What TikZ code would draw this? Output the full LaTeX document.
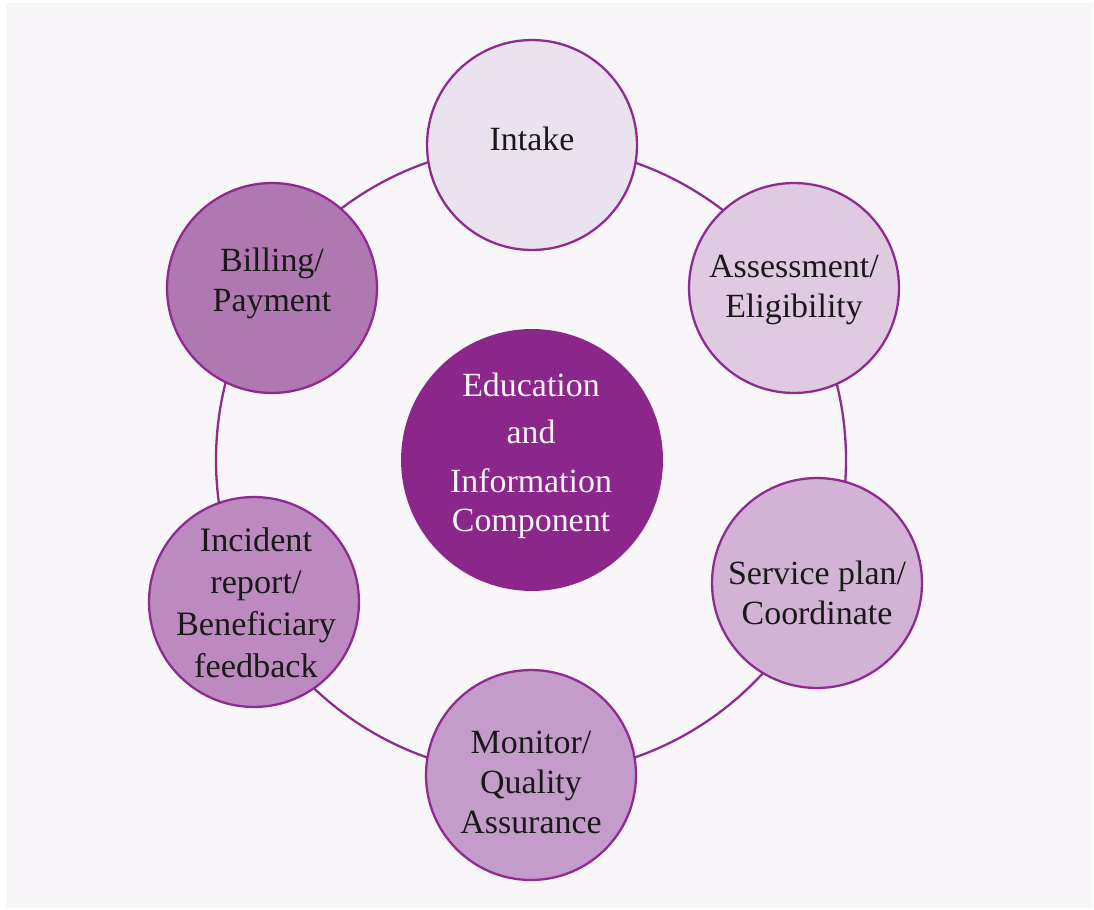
\documentclass[tikz,border=0pt]{standalone}
\usepackage{fontspec}
\setmainfont{Liberation Serif}
\definecolor{paper}{HTML}{F8F6F9}
\definecolor{ringline}{HTML}{8E2A91}
\definecolor{hubfill}{HTML}{8B278B}
\definecolor{intakefill}{HTML}{EBE2EF}
\definecolor{assessfill}{HTML}{E0CAE2}
\definecolor{servicefill}{HTML}{D2B3D6}
\definecolor{monitorfill}{HTML}{C49CC9}
\definecolor{incidentfill}{HTML}{BC8ABF}
\definecolor{billingfill}{HTML}{AF78B0}
\begin{document}
\begin{tikzpicture}[x=0.02cm, y=-0.02cm,
    sat/.style={circle, draw=ringline, line width=1.3pt, minimum size=4.2cm, inner sep=0pt},
    lbl/.style={align=center, font=\fontsize{19.3}{22.8}\selectfont, text=black!90}]
                \useasboundingbox (0,0) rectangle (1094,909);
                \fill[white] (0,0) rectangle (1094,909);
                \fill[paper] (6,3) rectangle (1093,908); % 背景
                \draw[ringline, line width=1.3pt] (531,460) circle[radius=315]; % 外側の輪
                % 周りの円
                \node[sat, fill=intakefill] (intake) at (532,145) {};
                \node[sat, fill=assessfill] (assess) at (794,288) {};
                \node[sat, fill=servicefill] (service) at (817,583) {};
                \node[sat, fill=monitorfill] (monitor) at (531,775) {};
                \node[sat, fill=incidentfill] (incident) at (254,602) {};
                \node[sat, fill=billingfill] (billing) at (272,288) {};
                % 中心の円
                \node[circle, fill=hubfill, minimum size=5.24cm, inner sep=0pt] (hub) at (532,460) {};
                \node[lbl] (intake-t) at (532,139) {Intake};
                \node[lbl] (assess-t) at (794,290) {Assessment/\\Eligibility};
                \node[lbl] (service-t) at (817,593) {Service plan/\\Coordinate};
                \node[lbl] (monitor-t) at (531,782) {Monitor/\\Quality\\Assurance};
                \node[lbl, font=\fontsize{19.5}{23.9}\selectfont] (incident-t) at (256,603) {Incident\\report/\\Beneficiary\\feedback};
                \node[lbl] (billing-t) at (272,283) {Billing/\\Payment};
                \node[lbl, font=\fontsize{19.3}{22.2}\selectfont, text=white!95!hubfill] (hub-t) at (531,456) {Education\\[4.5pt]and\\[5.7pt]Information\\Component};
            \end{tikzpicture}
\end{document}
